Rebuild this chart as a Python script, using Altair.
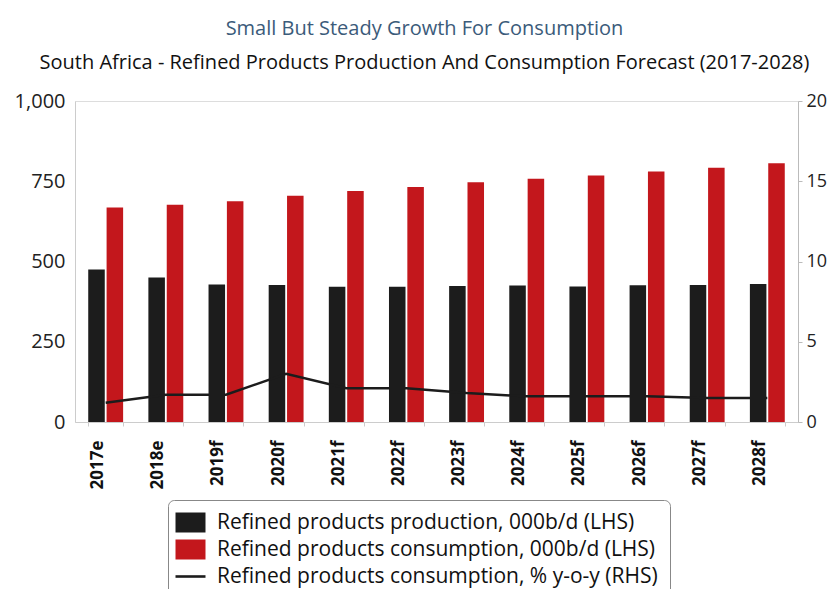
import altair as alt
import pandas as pd

years = ["2017e", "2018e", "2019f", "2020f", "2021f", "2022f",
         "2023f", "2024f", "2025f", "2026f", "2027f", "2028f"]
production = [475, 450, 428, 427, 421, 421, 424, 425, 422, 426, 427, 430]
consumption = [668, 677, 688, 705, 720, 732, 747, 758, 768, 780, 792, 806]
growth = [1.2, 1.7, 1.7, 3.0, 2.1, 2.1, 1.8, 1.6, 1.6, 1.6, 1.5, 1.5]

prod_label = "Refined products production, 000b/d (LHS)"
cons_label = "Refined products consumption, 000b/d (LHS)"
line_label = "Refined products consumption, % y-o-y (RHS)"
series_labels = [prod_label, cons_label, line_label]

bars = pd.DataFrame(
    [{"year": y, "series": prod_label, "value": v} for y, v in zip(years, production)]
    + [{"year": y, "series": cons_label, "value": v} for y, v in zip(years, consumption)]
)
line = pd.DataFrame({"year": years, "growth": growth, "series": line_label})
keys = pd.DataFrame({"series": series_labels})

FONT = "Open Sans"
BLACK = "#1c1c1c"
RED = "#c3171c"
BOX = "M-1.5,-1H1.5V1H-1.5Z"
DASH = "M-1.5,-0.13H1.5V0.13H-1.5Z"

color_scale = alt.Scale(domain=series_labels, range=[BLACK, RED, BLACK])
shape_scale = alt.Scale(domain=series_labels, range=[BOX, BOX, DASH])

legend = alt.Legend(
    orient="none", legendX=93, legendY=399, title=None, direction="vertical",
    symbolSize=400, symbolOpacity=1, symbolStrokeWidth=0,
    labelFontSize=21, labelFont=FONT, labelColor="#111", labelLimit=700,
    labelOffset=16, rowPadding=5, padding=12, strokeColor="#888",
    cornerRadius=6, fillColor="white",
)

x_enc = alt.X("year:N", sort=years, title=None,
              scale=alt.Scale(paddingInner=0.42, paddingOuter=0.22),
              axis=alt.Axis(labelAngle=-90, labelFontSize=17, labelFontWeight="bold",
                            labelFont=FONT, labelColor="#111", labelPadding=14,
                            labelOffset=-8, tickBand="extent", tickColor="#ccc",
                            tickSize=4, domainColor="#ccc"))

bar_layer = alt.Chart(bars).mark_bar().encode(
    x=x_enc,
    xOffset=alt.XOffset("series:N", sort=[prod_label, cons_label],
                        scale=alt.Scale(paddingInner=0.1)),
    y=alt.Y("value:Q", title=None,
            scale=alt.Scale(domain=[0, 1000], nice=False),
            axis=alt.Axis(values=[0, 250, 500, 750, 1000], format=",.0f", grid=False,
                          ticks=False, labelFontSize=20, labelFont=FONT,
                          labelColor="#222", labelPadding=10, domainColor="#ccc")),
    color=alt.Color("series:N", scale=color_scale, legend=legend),
)

line_layer = alt.Chart(line).mark_line(strokeWidth=2.5).encode(
    x=alt.X("year:N", sort=years),
    y=alt.Y("growth:Q", title=None,
            scale=alt.Scale(domain=[0, 20], nice=False),
            axis=alt.Axis(orient="right", values=[0, 5, 10, 15, 20], grid=False,
                          tickSize=4, tickColor="#bbb", domainColor="#bbb",
                          labelFontSize=18, labelFont=FONT, labelColor="#222",
                          labelPadding=4)),
    color=alt.Color("series:N", scale=color_scale, legend=legend),
)

key_layer = alt.Chart(keys).mark_point(filled=True, opacity=0).encode(
    color=alt.Color("series:N", scale=color_scale, legend=legend),
    shape=alt.Shape("series:N", scale=shape_scale, legend=legend),
)

chart = alt.layer(bar_layer, line_layer, key_layer).resolve_scale(y="independent").properties(
    width=723, height=321,
    autosize=alt.AutoSizeParams(type="none"),
    padding={"left": 67, "top": 93, "right": 31, "bottom": 167},
    title=alt.TitleParams(
        text="Small But Steady Growth For Consumption",
        subtitle="South Africa - Refined Products Production And Consumption Forecast (2017-2028)",
        anchor="middle", dx=-12, font=FONT, fontSize=20, fontWeight="normal",
        color="#3b5b7a", subtitleFont=FONT, subtitleFontSize=20,
        subtitleColor="#111", subtitlePadding=14, offset=18,
    ),
).configure_view(stroke="#bbb").configure(background="white")

chart.save("out.html", embed_options={"renderer": "svg", "actions": False})
